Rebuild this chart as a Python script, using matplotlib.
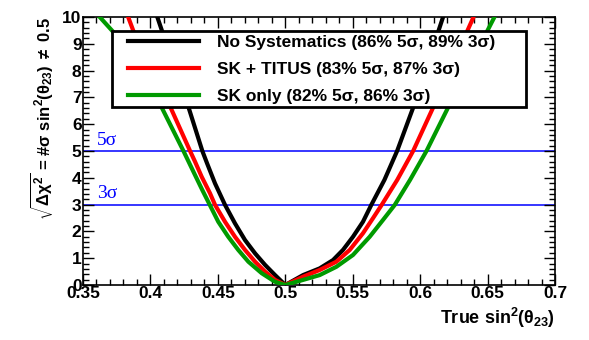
import matplotlib
matplotlib.use("Agg")
import matplotlib.pyplot as plt
from matplotlib.ticker import MultipleLocator
from matplotlib.patches import Rectangle

plt.rcParams['font.family'] = ['Liberation Sans', 'DejaVu Sans']
plt.rcParams['mathtext.fontset'] = 'custom'
plt.rcParams['mathtext.rm'] = 'Liberation Sans:bold'
plt.rcParams['mathtext.it'] = 'Liberation Sans:bold'
plt.rcParams['mathtext.bf'] = 'Liberation Sans:bold'

# values (true sin^2(theta23), sqrt(delta chi^2))
x_nosys = [0.4051, 0.4088, 0.4275, 0.4385, 0.4420, 0.4479, 0.4553, 0.4627, 0.4701, 0.4776,
           0.4850, 0.4924, 0.5,
           0.5132, 0.5255, 0.5354, 0.5428, 0.5502, 0.5576, 0.5638, 0.5735, 0.5830, 0.5949, 0.6170]
y_nosys = [10.0, 9.45, 6.75, 5.0, 4.54, 3.79, 2.99, 2.30, 1.68, 1.18,
           0.75, 0.37, 0.0,
           0.37, 0.62, 0.93, 1.31, 1.80, 2.36, 2.99, 3.92, 5.01, 6.63, 10.0]

x_titus = [0.3835, 0.3872, 0.4138, 0.4294, 0.4331, 0.4380, 0.4442, 0.4479, 0.4553, 0.4627,
           0.4701, 0.4776, 0.4850, 0.4924, 0.5,
           0.5132, 0.5255, 0.5379, 0.5478, 0.5576, 0.5650, 0.5715, 0.5830, 0.5949, 0.6097, 0.6396]
y_titus = [10.0, 9.5, 6.75, 5.0, 4.60, 4.04, 3.42, 2.99, 2.36, 1.80,
           1.31, 0.87, 0.50, 0.19, 0.0,
           0.31, 0.56, 0.87, 1.31, 1.93, 2.49, 2.99, 3.92, 5.01, 6.63, 10.0]

x_skonly = [0.3624, 0.3723, 0.4071, 0.4245, 0.4331, 0.4385, 0.4440, 0.4503, 0.4577, 0.4651,
            0.4726, 0.4825, 0.4924, 0.5,
            0.5132, 0.5255, 0.5379, 0.5502, 0.5626, 0.5725, 0.5812, 0.5925, 0.6048, 0.6208, 0.6551]
y_skonly = [10.0, 9.45, 6.75, 5.0, 4.10, 3.54, 2.99, 2.36, 1.80, 1.31,
            0.87, 0.44, 0.12, 0.0,
            0.19, 0.37, 0.68, 1.12, 1.80, 2.43, 2.99, 3.92, 5.01, 6.63, 10.0]

labels = ['No Systematics (86% 5σ, 89% 3σ)',
          'SK + TITUS (83% 5σ, 87% 3σ)',
          'SK only (82% 5σ, 86% 3σ)']
colors = ['black', '#ff0000', '#009a00']
sigma_levels = [5, 3]
sigma_labels = ['5σ', '3σ']

fig = plt.figure(figsize=(5.89, 3.40), dpi=100)
ax = fig.add_axes([83/589, 1-285/340, (555-83)/589, (285-17)/340])

for s in sigma_levels:
    ax.axhline(s, color='#0000ff', lw=1.1, zorder=1)
for s, t in zip(sigma_levels, sigma_labels):
    ax.text(0.3605, s + 0.08, t, color='#0000ff', fontsize=14,
            family='Liberation Serif', ha='left', va='bottom')

for xs, ys, c, lab in zip([x_nosys, x_titus, x_skonly], [y_nosys, y_titus, y_skonly], colors, labels):
    ax.plot(xs, ys, color=c, lw=3.0, label=lab, zorder=3, solid_joinstyle='round')

ax.set_xlim(0.35, 0.7)
ax.set_ylim(0, 10)
ax.xaxis.set_minor_locator(MultipleLocator(0.01))
ax.yaxis.set_major_locator(MultipleLocator(1))
ax.yaxis.set_minor_locator(MultipleLocator(0.2))
ax.set_xticks([0.35, 0.4, 0.45, 0.5, 0.55, 0.6, 0.65, 0.7])
ax.set_xticklabels(['0.35', '0.4', '0.45', '0.5', '0.55', '0.6', '0.65', '0.7'])
ax.tick_params(which='both', direction='in', top=True, right=True, width=1)
ax.tick_params(which='major', length=8, labelsize=12.5, pad=1)
ax.tick_params(which='minor', length=4)
for lab in ax.get_xticklabels() + ax.get_yticklabels():
    lab.set_fontweight('bold')
for sp in ax.spines.values():
    sp.set_linewidth(1.2)

ax.set_xlabel(r'True sin$^{2}$($\theta_{23}$)', fontsize=13, fontweight='bold',
              loc='right', labelpad=3)
ax.set_ylabel(r'$\sqrt{\Delta\chi^{2}}$ = #σ sin$^{2}$($\theta_{23}$) $\neq$ 0.5',
              fontsize=12, fontweight='bold', loc='top', labelpad=5)

# legend box drawn separately so its padding matches the reference
box = Rectangle((112/589, 1-107/340), (526-112)/589, (107-31)/340,
                transform=fig.transFigure, facecolor='white', edgecolor='black',
                lw=2, zorder=4, clip_on=False)
ax.add_patch(box)
leg = ax.legend(loc='upper left', bbox_to_anchor=(128/589, 1-35/340),
                bbox_transform=fig.transFigure, borderaxespad=0, frameon=False,
                prop={'weight': 'bold', 'size': 12.5},
                handlelength=4.1, handletextpad=1.0, labelspacing=0.67,
                borderpad=0)
leg.set_zorder(5)

fig.savefig('out.png', dpi=100)
